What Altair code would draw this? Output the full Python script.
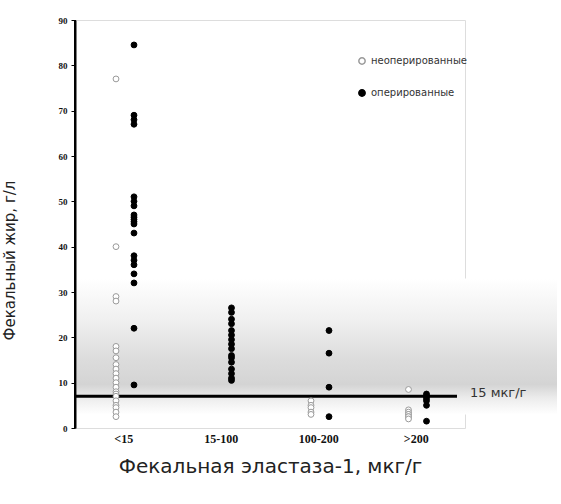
import altair as alt
import pandas as pd

categories = ["<15", "15-100", "100-200", ">200"]
groups = ["неоперированные", "оперированные"]

open_lt15 = [77, 40, 29, 28, 18, 17, 15.5, 14, 13, 12, 11, 10, 9, 8, 7.5, 7, 6, 5, 4.5, 3.5, 2.5]
filled_lt15 = [84.5, 69, 68, 67, 51, 50, 49, 47, 46.5, 46, 45.5, 45, 43, 38, 37, 36, 34, 32, 22, 9.5]
filled_15_100 = [26.5, 25.5, 24, 23, 21.5, 20.5, 19.5, 18.5, 17.5, 16, 15.5, 14.5, 13, 12, 11, 10.5]
open_100_200 = [6, 5, 4.5, 3.5, 3]
filled_100_200 = [21.5, 16.5, 9, 2.5]
open_gt200 = [8.5, 4, 3.5, 3, 3, 2.5, 2.5, 2]
filled_gt200 = [7.5, 7, 6.5, 6, 5, 1.5]

threshold = 7
threshold_label = "15 мкг/г"
band_top, band_bottom = 33, 3

rows = []
for cat, grp, vals in [
    ("<15", groups[0], open_lt15), ("<15", groups[1], filled_lt15),
    ("15-100", groups[1], filled_15_100),
    ("100-200", groups[0], open_100_200), ("100-200", groups[1], filled_100_200),
    (">200", groups[0], open_gt200), (">200", groups[1], filled_gt200),
]:
    for v in vals:
        rows.append({"cat": cat, "grp": grp, "val": v})
df = pd.DataFrame(rows)

W, H = 390, 408
yscale = alt.Scale(domain=[0, 90], nice=False)
yaxis = alt.Axis(title="Фекальный жир, г/л", values=list(range(0, 91, 10)), titleX=-58, titleY=240)

grad = alt.LinearGradient(
    gradient="linear", x1=0, x2=0, y1=0, y2=1,
    stops=[
        alt.GradientStop(color="#ffffff", offset=0),
        alt.GradientStop(color="#f0f0f0", offset=0.3),
        alt.GradientStop(color="#dcdcdc", offset=0.6),
        alt.GradientStop(color="#d4d4d4", offset=0.78),
        alt.GradientStop(color="#ececec", offset=0.88),
        alt.GradientStop(color="#ffffff", offset=1),
    ],
)
band = alt.Chart(pd.DataFrame({"top": [band_top], "bottom": [band_bottom]})).mark_rect(fill=grad).encode(
    y=alt.Y("top:Q", scale=yscale, axis=yaxis),
    y2="bottom:Q",
    x=alt.value(2),
    x2=alt.value(W + 92),
)

ymin = alt.Chart(pd.DataFrame({"a": [0], "b": [90]})).mark_rule(color="black", strokeWidth=2).encode(
    y=alt.Y("a:Q", scale=yscale, axis=yaxis),
    y2="b:Q",
    x=alt.value(0),
)

rule = alt.Chart(pd.DataFrame({"t": [threshold]})).mark_rule(color="black", strokeWidth=3).encode(
    y=alt.Y("t:Q", scale=yscale, axis=yaxis),
    x=alt.value(0),
    x2=alt.value(W - 8),
)

label = alt.Chart(pd.DataFrame({"t": [threshold], "lab": [threshold_label]})).mark_text(
    align="left", baseline="middle", fontSize=13, font="DejaVu Sans", color="#333", dy=-3
).encode(
    y=alt.Y("t:Q", scale=yscale, axis=yaxis),
    x=alt.value(W + 5),
    text="lab:N",
)

leg = alt.Legend(title=None, orient="none", legendX=282, legendY=36,
                 labelFontSize=10, labelFont="DejaVu Sans", labelColor="#333",
                 rowPadding=18, symbolSize=40)

points = alt.Chart(df).mark_point(size=34, strokeWidth=1, opacity=1, fillOpacity=1).encode(
    x=alt.X("cat:N", sort=categories, scale=alt.Scale(domain=categories, paddingInner=0, paddingOuter=0),
            axis=alt.Axis(title="Фекальная эластаза-1, мкг/г", domain=False, ticks=False,
                          labelAngle=0, labelFontSize=12, labelFont="Liberation Sans Narrow",
                          labelFontWeight="bold", labelColor="#111", labelPadding=5,
                          titleFontSize=20, titleFont="DejaVu Sans", titleFontWeight="normal",
                          titleColor="#222", titlePadding=12)),
    xOffset=alt.XOffset("grp:N", sort=groups,
                        scale=alt.Scale(domain=groups, range=[41, 59], paddingInner=0, paddingOuter=0)),
    y=alt.Y("val:Q", scale=yscale, axis=yaxis),
    fill=alt.Fill("grp:N", sort=groups, scale=alt.Scale(domain=groups, range=["#ffffff", "#000000"]),
                  legend=leg),
    stroke=alt.Stroke("grp:N", sort=groups, scale=alt.Scale(domain=groups, range=["#9a9a9a", "#000000"]),
                      legend=leg),
)

chart = alt.layer(band, ymin, rule, points, label).properties(
    width=W, height=H,
    autosize=alt.AutoSizeParams(type="none"),
    padding={"left": 75, "top": 20, "right": 96, "bottom": 76},
).configure_view(stroke=None).configure(background="white").configure_axisY(
    grid=False, domain=True, domainColor="black", domainWidth=2, ticks=True, tickColor="black",
    tickSize=4, tickWidth=1, labelFontSize=9, labelFont="Liberation Sans Narrow",
    labelFontWeight="bold", labelColor="#111", labelPadding=4,
    titleFontSize=15, titleFont="DejaVu Sans", titleFontWeight="normal", titleColor="#222",
)

chart.save("out.html", embed_options={"renderer": "svg", "actions": False})
